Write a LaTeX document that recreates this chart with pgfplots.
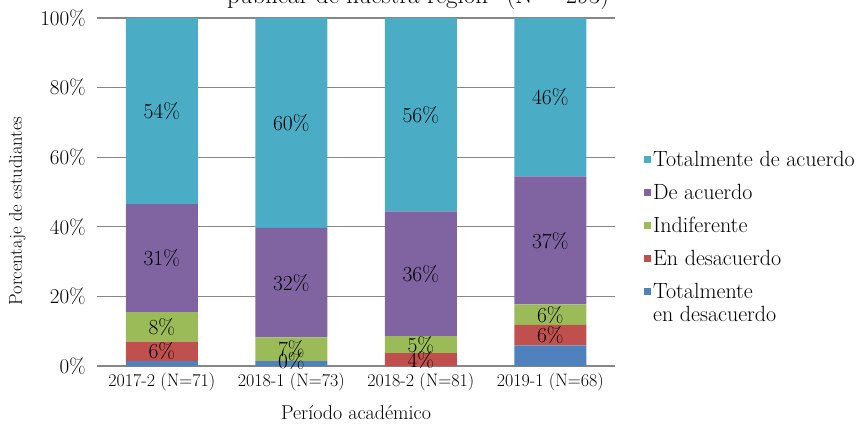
\documentclass[border=0pt]{standalone}
\usepackage{pgfplots}
\pgfplotsset{compat=1.18}
\usepackage{pgfplotstable}
\definecolor{cTA}{HTML}{4BACC6}
\definecolor{cDA}{HTML}{8064A2}
\definecolor{cIN}{HTML}{9BBB59}
\definecolor{cED}{HTML}{C0504D}
\definecolor{cTD}{HTML}{4F81BD}
\definecolor{gridc}{HTML}{868686}
\pgfplotsset{
  legsq/.style={legend image code/.code={\fill[##1] (0pt,-3.5pt) rectangle (7pt,3.5pt);}},
  legsqup/.style={legend image code/.code={\fill[##1] (0pt,8pt) rectangle (7pt,15pt);}},
}
\pgfplotstableread{
x TD ED IN DA TA
0 1.4 5.6 8.5 31.0 53.5
1 1.4 0.0 6.8 31.5 60.3
2 0.0 3.7 4.9 35.8 55.6
3 5.9 5.9 5.9 36.8 45.5
}\datatable
\pgfplotstableread{
x y label
0 4.2 6\%
0 11.25 8\%
0 31.0 31\%
0 73.25 54\%
1 1.4 0\%
1 4.8 7\%
1 23.95 32\%
1 69.85 60\%
2 1.85 4\%
2 6.15 5\%
2 26.5 36\%
2 72.2 56\%
3 8.85 6\%
3 14.7 6\%
3 36.0 37\%
3 77.2 46\%
}\labeltable
\begin{document}
\begin{tikzpicture}
\pgfplotsset{
  myaxis/.style={
    scale only axis, width=518pt, height=348pt,
    xmin=-0.5, xmax=3.5, ymin=0, ymax=100,
  }
}
\begin{axis}[
  myaxis,
  ybar stacked, bar width=72pt,
  axis line style={draw=none},
  ymajorgrids, grid style={gridc, line width=1.3pt},
  major tick length=0pt,
  xtick={0,1,2,3},
  xticklabels={2017-2 (N=71),2018-1 (N=73),2018-2 (N=81),2019-1 (N=68)},
  ytick={0,20,40,60,80,100},
  yticklabels={0\%,20\%,40\%,60\%,80\%,100\%},
  /pgf/number format/assume math mode=true,
  yticklabel style={font=\fontsize{21}{24}\selectfont, xshift=-8pt},
  xticklabel style={font=\fontsize{18}{21}\selectfont, yshift=-3pt},
  xlabel={Período académico},
  ylabel={Porcentaje de estudiantes},
  every axis x label/.style={at={(axis description cs:0.5,-0.135)}, anchor=center, font=\fontsize{20}{23}\selectfont},
  every axis y label/.style={at={(axis description cs:-0.154,0.445)}, rotate=90, anchor=center, font=\fontsize{18.5}{22}\selectfont},
  reverse legend,
  legend cell align=left,
  legend style={draw=none, fill=none, at={(axis description cs:1.05,0.63)}, anchor=north west,
    font=\fontsize{22}{23}\selectfont, row sep=12.3pt, cells={align=left}},
  legsq,
]
\addplot[fill=cTD, draw=none, legsqup] table[x=x, y=TD] {\datatable};
\addlegendentry{Totalmente\\en desacuerdo}
\addplot[fill=cED, draw=none] table[x=x, y=ED] {\datatable};
\addlegendentry{En desacuerdo}
\addplot[fill=cIN, draw=none] table[x=x, y=IN] {\datatable};
\addlegendentry{Indiferente}
\addplot[fill=cDA, draw=none] table[x=x, y=DA] {\datatable};
\addlegendentry{De acuerdo}
\addplot[fill=cTA, draw=none] table[x=x, y=TA] {\datatable};
\addlegendentry{Totalmente de acuerdo}
\coordinate (ll) at (rel axis cs:0,0);
\coordinate (ur) at (rel axis cs:1,1);
\coordinate (tt) at (axis description cs:0.62,1.042);
\end{axis}
\begin{axis}[
  myaxis, hide axis,
]
\addplot[draw=none, mark=none,
  nodes near coords, point meta=explicit symbolic,
  every node near coord/.style={anchor=center, font=\fontsize{21.5}{24}\selectfont, text=black}]
  table[x=x, y=y, meta=label] {\labeltable};
\end{axis}
\node[font=\fontsize{25}{27}\selectfont, anchor=base] at (tt) {publicar de nuestra región'' (N = 293)};
\pgfresetboundingbox
\useasboundingbox ([shift={(-97pt,-62pt)}]ll) rectangle ([shift={(243pt,18pt)}]ur);
\end{tikzpicture}
\end{document}
